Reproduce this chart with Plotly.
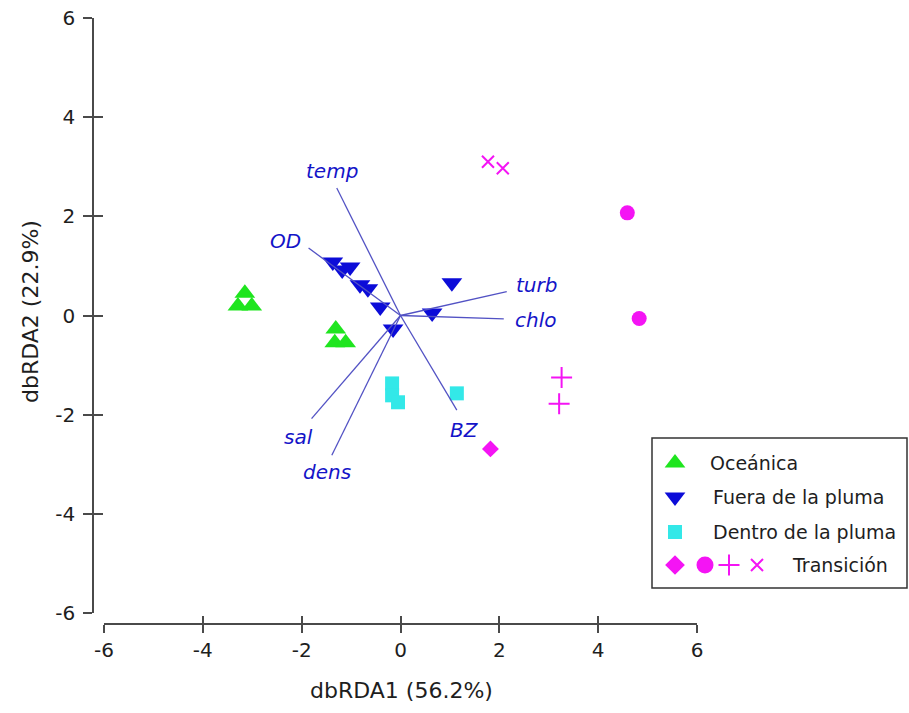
import plotly.graph_objects as go

W, H = 909, 713

# ---------------- data ----------------
oce_x = [-3.15, -3.29, -3.01, -1.31, -1.33, -1.11]
oce_y = [0.45, 0.19, 0.19, -0.27, -0.55, -0.55]

fue_x = [-1.37, -1.18, -1.02, -0.82, -0.66, -0.41, -0.15, 0.64, 1.04]
fue_y = [1.08, 0.92, 0.98, 0.62, 0.54, 0.17, -0.27, 0.05, 0.66]

den_x = [-0.17, -0.17, -0.05, 1.14]
den_y = [-1.37, -1.61, -1.75, -1.57]

tra_diamond_x = [1.82]
tra_diamond_y = [-2.69]
tra_circle_x = [4.59, 4.83]
tra_circle_y = [2.07, -0.06]
tra_plus_x = [3.26, 3.21]
tra_plus_y = [-1.25, -1.78]
tra_cross_x = [1.77, 2.07]
tra_cross_y = [3.10, 2.97]

vec_names = ["temp", "OD", "turb", "chlo", "BZ", "sal", "dens"]
vec_x = [-1.29, -1.86, 2.15, 2.09, 1.14, -1.80, -1.39]
vec_y = [2.57, 1.36, 0.48, -0.07, -1.91, -2.08, -2.82]

tick_vals = [-6, -4, -2, 0, 2, 4, 6]
tick_text = ["-6", "-4", "-2", "0", "2", "4", "6"]

legend_names = ["Oceánica", "Fuera de la pluma", "Dentro de la pluma", "Transición"]

x_title = "dbRDA1 (56.2%)"
y_title = "dbRDA2 (22.9%)"

# ---------------- styles ----------------
GREEN = "#1FE51F"
BLUE = "#0C0CD8"
CYAN = "#33E8E8"
MAG = "#F414F4"
VEC = "#5252C4"
LAB = "#1414C8"
AX = "#4A4A4A"
TXT = "#1E1E1E"
FONT = "DejaVu Sans"

# label offsets (pixels) relative to vector tips
lab_shift = {
    "temp": (-5, 17), "OD": (-23, 7), "turb": (30, 7), "chlo": (32, -1),
    "BZ": (8, -20), "sal": (-13, -18), "dens": (-5, -17),
}


def pxx(x):
    return x / W


def pxy(y):
    return 1 - y / H


fig = go.Figure()

msz = dict(tri=18, sq=14, dia=13, circ=15, plus=15, cross=12)

# data markers
fig.add_trace(go.Scatter(x=oce_x, y=oce_y, mode="markers",
                         marker=dict(symbol="triangle-up", size=msz["tri"], color=GREEN, line=dict(width=0))))
fig.add_trace(go.Scatter(x=fue_x, y=fue_y, mode="markers",
                         marker=dict(symbol="triangle-down", size=msz["tri"], color=BLUE, line=dict(width=0))))
fig.add_trace(go.Scatter(x=den_x, y=den_y, mode="markers",
                         marker=dict(symbol="square", size=msz["sq"], color=CYAN, line=dict(width=0))))
fig.add_trace(go.Scatter(x=tra_diamond_x, y=tra_diamond_y, mode="markers",
                         marker=dict(symbol="diamond", size=msz["dia"], color=MAG, line=dict(width=0))))
fig.add_trace(go.Scatter(x=tra_circle_x, y=tra_circle_y, mode="markers",
                         marker=dict(symbol="circle", size=msz["circ"], color=MAG, line=dict(width=0))))
fig.add_trace(go.Scatter(x=tra_plus_x, y=tra_plus_y, mode="markers",
                         marker=dict(symbol="cross-thin", size=msz["plus"], color=MAG, line=dict(width=2, color=MAG))))
fig.add_trace(go.Scatter(x=tra_cross_x, y=tra_cross_y, mode="markers",
                         marker=dict(symbol="x-thin", size=msz["cross"], color=MAG, line=dict(width=2, color=MAG))))

# vectors
lx, ly = [], []
for vx, vy in zip(vec_x, vec_y):
    lx += [0, vx, None]
    ly += [0, vy, None]
fig.add_trace(go.Scatter(x=lx, y=ly, mode="lines", line=dict(color=VEC, width=1.3), hoverinfo="skip"))

for name, vx, vy in zip(vec_names, vec_x, vec_y):
    sx, sy = lab_shift[name]
    fig.add_annotation(x=vx, y=vy, xref="x", yref="y", text="<i>" + name + "</i>", showarrow=False,
                       xshift=sx, yshift=sy,
                       font=dict(family=FONT, size=20, color=LAB), xanchor="center", yanchor="middle")

# dummy trace for overlay axes (inner half of crossing ticks)
fig.add_trace(go.Scatter(x=[None], y=[None], xaxis="x2", yaxis="y2", mode="markers", hoverinfo="skip"))

# ---------------- legend (custom box) ----------------
LX0, LX1, LY0, LY1 = 652, 907, 438, 588
fig.add_shape(type="rect", xref="paper", yref="paper",
              x0=pxx(LX0), x1=pxx(LX1), y0=pxy(LY1), y1=pxy(LY0),
              line=dict(color="#333333", width=1.5), fillcolor="white", layer="below")

leg_rows_y = [463, 497, 532, 565]
leg_marker_x = 675
fig.add_trace(go.Scatter(x=[leg_marker_x], y=[leg_rows_y[0]], xaxis="x3", yaxis="y3", mode="markers",
                         marker=dict(symbol="triangle-up", size=msz["tri"], color=GREEN), hoverinfo="skip"))
fig.add_trace(go.Scatter(x=[leg_marker_x], y=[leg_rows_y[1]], xaxis="x3", yaxis="y3", mode="markers",
                         marker=dict(symbol="triangle-down", size=msz["tri"], color=BLUE), hoverinfo="skip"))
fig.add_trace(go.Scatter(x=[leg_marker_x], y=[leg_rows_y[2]], xaxis="x3", yaxis="y3", mode="markers",
                         marker=dict(symbol="square", size=msz["sq"], color=CYAN), hoverinfo="skip"))
tra_syms = ["diamond", "circle", "cross-thin", "x-thin"]
tra_sizes = [msz["dia"], msz["circ"], msz["plus"], msz["cross"]]
tra_leg_x = [675, 705, 729, 757]
for s, sz, xx in zip(tra_syms, tra_sizes, tra_leg_x):
    fig.add_trace(go.Scatter(x=[xx], y=[leg_rows_y[3]], xaxis="x3", yaxis="y3", mode="markers",
                             marker=dict(symbol=s, size=sz, color=MAG, line=dict(width=2, color=MAG)),
                             hoverinfo="skip"))
leg_text_x = [708, 711, 711, 790]
for name, tx, ty in zip(legend_names, leg_text_x, leg_rows_y):
    fig.add_annotation(x=tx, y=ty, xref="x3", yref="y3", text=name, showarrow=False,
                       xanchor="left", yanchor="middle",
                       font=dict(family=FONT, size=19, color=TXT))

# ---------------- axes ----------------
xdom = [pxx(104), pxx(697)]
ydom = [pxy(613), pxy(18)]
tickfont = dict(family=FONT, size=20, color=TXT)
common = dict(range=[-6, 6], tickmode="array", tickvals=tick_vals, ticktext=tick_text,
              showgrid=False, zeroline=False, automargin=False, fixedrange=True)

fig.update_layout(
    width=W, height=H, margin=dict(l=0, r=0, t=0, b=0),
    paper_bgcolor="white", plot_bgcolor="rgba(0,0,0,0)", showlegend=False,
    xaxis=dict(domain=xdom, anchor="free", position=pxy(624), showline=True, linecolor=AX, linewidth=1.5,
               ticks="outside", ticklen=8, tickwidth=1.5, tickcolor=AX, tickfont=tickfont,
               ticklabelstandoff=0, **common),
    yaxis=dict(domain=ydom, anchor="free", position=pxx(93), showline=True, linecolor=AX, linewidth=1.5,
               ticks="outside", ticklen=9, tickwidth=1.5, tickcolor=AX, tickfont=tickfont,
               ticklabelstandoff=4, **common),
    xaxis2=dict(overlaying="x", anchor="free", position=pxy(624), showline=False,
                ticks="inside", ticklen=8, tickwidth=1.5, tickcolor=AX, showticklabels=False, **common),
    yaxis2=dict(overlaying="y", anchor="free", position=pxx(93), showline=False,
                ticks="inside", ticklen=9, tickwidth=1.5, tickcolor=AX, showticklabels=False, **common),
    xaxis3=dict(domain=[pxx(LX0), pxx(LX1)], range=[LX0, LX1], anchor="y3", visible=False, fixedrange=True),
    yaxis3=dict(domain=[pxy(LY1), pxy(LY0)], range=[LY1, LY0], anchor="x3", visible=False, fixedrange=True),
)

fig.add_annotation(x=pxx(401), y=pxy(690), xref="paper", yref="paper", text=x_title, showarrow=False,
                   xanchor="center", yanchor="middle", font=dict(family=FONT, size=22, color=TXT))
fig.add_annotation(x=pxx(30), y=pxy(312), xref="paper", yref="paper", text=y_title, showarrow=False,
                   textangle=-90, xanchor="center", yanchor="middle", font=dict(family=FONT, size=22, color=TXT))

fig.write_html("out.html")
